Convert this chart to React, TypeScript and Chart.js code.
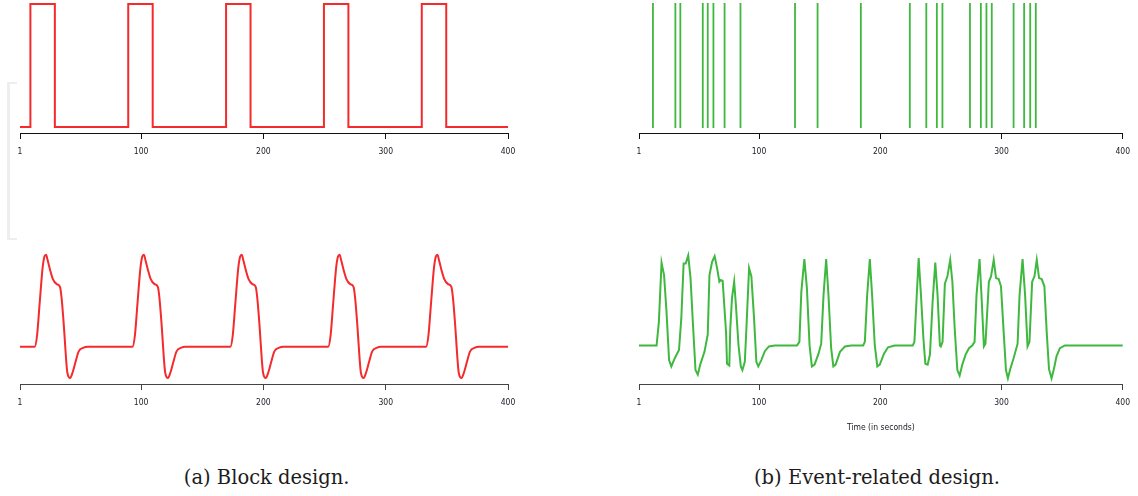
import React, { useEffect, useRef } from "react";
import { Chart, registerables } from "chart.js";

Chart.register(...registerables);

// ---------- data ----------
const TICK_VALUES = [1, 100, 200, 300, 400];
const AXIS_TITLE = "Time (in seconds)";
const CAPTION_A = "(a) Block design.";
const CAPTION_B = "(b) Event-related design.";

// (a) block design: box-car stimulus
const blockX = [1, 9.5, 9.5, 29.5, 29.5, 89.5, 89.5, 109.5, 109.5, 169.5, 169.5, 189.5, 189.5, 249.5, 249.5, 269.5, 269.5, 329.5, 329.5, 349.5, 349.5, 400];
const blockY = [0, 0, 1, 1, 0, 0, 1, 1, 0, 0, 1, 1, 0, 0, 1, 1, 0, 0, 1, 1, 0, 0];

// (a) block design: predicted BOLD response
const blockBoldX = [
  1, 13, 15, 17, 19.5, 21, 22.3, 23.6, 25.5, 27.7, 31, 33.7, 35, 37, 38.6, 39.7, 42, 44, 46.5, 49, 53, 56,
  93, 95, 97, 99.5, 101, 102.3, 103.6, 105.5, 107.7, 111, 113.7, 115, 117, 118.6, 119.7, 122, 124, 126.5, 129, 133, 136,
  173, 175, 177, 179.5, 181, 182.3, 183.6, 185.5, 187.7, 191, 193.7, 195, 197, 198.6, 199.7, 202, 204, 206.5, 209, 213, 216,
  253, 255, 257, 259.5, 261, 262.3, 263.6, 265.5, 267.7, 271, 273.7, 275, 277, 278.6, 279.7, 282, 284, 286.5, 289, 293, 296,
  333, 335, 337, 339.5, 341, 342.3, 343.6, 345.5, 347.7, 351, 353.7, 355, 357, 358.6, 359.7, 362, 364, 366.5, 369, 373, 376, 400,
];
const blockBoldY = [
  0, 0, 0.13, 0.46, 0.86, 0.98, 1.0, 0.94, 0.84, 0.74, 0.68, 0.65, 0.53, 0.2, -0.12, -0.28, -0.34, -0.28, -0.16, -0.05, -0.01, 0,
  0, 0.13, 0.46, 0.86, 0.98, 1.0, 0.94, 0.84, 0.74, 0.68, 0.65, 0.53, 0.2, -0.12, -0.28, -0.34, -0.28, -0.16, -0.05, -0.01, 0,
  0, 0.13, 0.46, 0.86, 0.98, 1.0, 0.94, 0.84, 0.74, 0.68, 0.65, 0.53, 0.2, -0.12, -0.28, -0.34, -0.28, -0.16, -0.05, -0.01, 0,
  0, 0.13, 0.46, 0.86, 0.98, 1.0, 0.94, 0.84, 0.74, 0.68, 0.65, 0.53, 0.2, -0.12, -0.28, -0.34, -0.28, -0.16, -0.05, -0.01, 0,
  0, 0.13, 0.46, 0.86, 0.98, 1.0, 0.94, 0.84, 0.74, 0.68, 0.65, 0.53, 0.2, -0.12, -0.28, -0.34, -0.28, -0.16, -0.05, -0.01, 0, 0,
];

// (b) event-related design: event onsets (seconds)
const eventOnsets = [12.5, 31, 35.1, 53.6, 57.7, 62.4, 71.6, 84.7, 129.7, 148.3, 184, 224.4, 238, 246.7, 251.3, 274, 283, 287.6, 292, 310, 318.7, 323.7, 328.3];

// (b) event-related design: predicted BOLD response
const eventBoldX = [
  1, 15.5, 17.4, 19.6, 21.7, 23.7, 25.8, 27.7, 30.5, 34, 35.9, 37.8, 39.5, 41.6, 43.5, 45.4, 47.6, 49.5, 51.5, 55, 57.7,
  59.1, 61.3, 63.4, 65.4, 67.3, 68.6, 70, 72.8, 73.6, 75.5, 76.3, 77.7, 79.5, 80.9, 83.1, 85, 86.3, 88.3, 89.6, 91.8,
  93.7, 95.9, 97.8, 99.4, 101.9, 104.9, 108.2, 113,
  131.3, 133.3, 134.9, 137.4, 139.5, 141.7, 143.6, 145.8, 149.1, 151.3, 153.2, 155.4, 157.3, 159.5, 161.3, 163.2, 166.8, 170.9, 176,
  185.9, 187.3, 189.2, 191.4, 193.3, 195.5, 197.6, 199.6, 203.1, 206.4, 212,
  226.8, 228.2, 230.1, 231.7, 233.6, 235.6, 237.2, 239.1, 241, 243.2, 245.4, 247.3, 249.2, 250, 251.4, 253.3, 255.4, 257.7,
  259.5, 261.4, 263.6, 265.5, 267.7, 270.4, 273.2, 275.9, 277.8, 279.4, 281.9, 283.5, 285.5, 286.8, 289.6, 291.4, 293.6,
  295.5, 297.7, 299.6, 301.8, 303.7, 305.3, 307.2, 310, 313.3, 314.9, 317.4, 319.5, 321.5, 323.1, 325.3, 327.2, 329.1, 331,
  333.2, 335.4, 337.3, 339.2, 341.3, 343.2, 345.4, 348.2, 352.3, 400,
];
const eventBoldY = [
  0, 0, 0.26, 0.91, 0.77, 0.37, -0.16, -0.23, -0.14, -0.05, 0.3, 0.9, 0.9, 0.99, 0.74, 0.26, -0.27, -0.32, -0.21, -0.07, 0.12,
  0.77, 0.92, 0.98, 0.85, 0.7, 0.72, 0.71, 0.15, -0.2, -0.22, 0.19, 0.52, 0.7, 0.45, 0.0, -0.23, -0.27, -0.18, 0.19, 0.85,
  0.76, 0.3, -0.18, -0.23, -0.16, -0.06, -0.01, 0,
  0, 0.04, 0.59, 0.95, 0.63, 0.0, -0.23, -0.21, -0.09, 0.02, 0.55, 0.95, 0.55, -0.03, -0.23, -0.21, -0.07, -0.01, 0,
  0, 0.04, 0.55, 0.95, 0.55, 0, -0.23, -0.21, -0.09, -0.02, 0,
  0, 0.04, 0.55, 0.96, 0.55, 0.08, -0.2, -0.21, -0.1, 0.48, 0.91, 0.55, 0.0, -0.01, 0.04, 0.68, 0.76, 0.94,
  0.7, 0.19, -0.27, -0.33, -0.21, -0.1, -0.03, 0, 0.04, 0.55, 0.95, 0.55, -0.01, 0.02, 0.7, 0.76, 0.94,
  0.74, 0.73, 0.65, 0.15, -0.27, -0.36, -0.26, -0.14, 0.02, 0.55, 0.95, 0.55, -0.01, 0.04, 0.7, 0.76, 0.94, 0.74,
  0.73, 0.65, 0.15, -0.26, -0.36, -0.26, -0.12, -0.03, 0, 0,
];

// ---------- styling ----------
const RED = "#f42a2c";
const GREEN = "#3fb83f";
const TICK_FONT = "'Liberation Sans Narrow', 'DejaVu Sans Condensed', 'Liberation Sans', Arial, sans-serif";

function toPoints(xs: number[], ys: number[]) {
  return xs.map((x, i) => ({ x, y: ys[i] }));
}

function stickPoints(onsets: number[]) {
  const pts: { x: number; y: number | null }[] = [];
  onsets.forEach((x) => {
    pts.push({ x, y: 0 });
    pts.push({ x, y: 1 });
    pts.push({ x, y: null });
  });
  return pts;
}

function xScale(axisColor: string, scaleHeight: number, withTitle: boolean) {
  return {
    type: "linear",
    min: 1,
    max: 400,
    afterBuildTicks: (s: any) => {
      s.ticks = TICK_VALUES.map((v) => ({ value: v }));
    },
    afterFit: (s: any) => {
      s.height = scaleHeight;
    },
    ticks: {
      autoSkip: false,
      maxRotation: 0,
      minRotation: 0,
      padding: 8,
      color: "#1a1a24",
      font: { family: TICK_FONT, size: 8.5 },
      callback: (v: any) => String(v),
    },
    grid: {
      display: true,
      drawOnChartArea: false,
      drawTicks: true,
      tickLength: 6,
      tickColor: axisColor,
      tickWidth: 1,
    },
    border: { display: true, color: axisColor, width: 1 },
    title: {
      display: withTitle,
      text: AXIS_TITLE,
      color: "#1a1a24",
      font: { family: TICK_FONT, size: 8.5 },
      padding: { top: 0, bottom: 1 },
    },
  };
}

type PanelProps = {
  left: number;
  top: number;
  width: number;
  height: number;
  datasets: any[];
  yMin: number;
  yMax: number;
  pad: { left: number; right: number; top: number };
  axisColor: string;
  scaleHeight: number;
  withTitle?: boolean;
};

function Panel(p: PanelProps) {
  const ref = useRef<HTMLCanvasElement | null>(null);
  useEffect(() => {
    if (!ref.current) return;
    const chart = new Chart(ref.current, {
      type: "line",
      data: { datasets: p.datasets },
      options: {
        animation: false,
        responsive: false,
        maintainAspectRatio: false,
        events: [],
        layout: { padding: { left: p.pad.left, right: p.pad.right, top: p.pad.top, bottom: 0 } },
        plugins: { legend: { display: false }, tooltip: { enabled: false } },
        scales: {
          x: xScale(p.axisColor, p.scaleHeight, !!p.withTitle) as any,
          y: { display: false, min: p.yMin, max: p.yMax },
        },
      },
    });
    return () => chart.destroy();
  }, []);
  return (
    <canvas
      ref={ref}
      width={p.width}
      height={p.height}
      style={{ position: "absolute", left: p.left, top: p.top, width: p.width, height: p.height }}
    />
  );
}

const lineBase = {
  pointRadius: 0,
  fill: false,
  clip: false,
  spanGaps: false,
};

export default function App() {
  const captionStyle: React.CSSProperties = {
    position: "absolute",
    top: 468,
    width: 400,
    textAlign: "center",
    fontFamily: "'DejaVu Serif', serif",
    fontSize: 19.5,
    lineHeight: "20px",
    color: "#1c1c1c",
    whiteSpace: "nowrap",
  };
  return (
    <div style={{ position: "absolute", left: 0, top: 0, width: 1138, height: 496, background: "#fff", overflow: "hidden" }}>
      <div
        style={{
          position: "absolute",
          left: 7,
          top: 82,
          width: 7,
          height: 154,
          borderLeft: "3px solid #eeeeee",
          borderTop: "2px solid #eeeeee",
          borderBottom: "2px solid #eeeeee",
        }}
      />
      <Panel
        left={0}
        top={0}
        width={530}
        height={170}
        pad={{ left: 20, right: 22, top: 4 }}
        yMin={-0.0488}
        yMax={1}
        axisColor="#111"
        scaleHeight={37}
        datasets={[
          { ...lineBase, data: toPoints(blockX, blockY), borderColor: RED, borderWidth: 2, tension: 0 },
        ]}
      />
      <Panel
        left={620}
        top={0}
        width={518}
        height={170}
        pad={{ left: 19, right: 11.3, top: 3 }}
        yMin={-0.04}
        yMax={1}
        axisColor="#111"
        scaleHeight={37}
        datasets={[
          { ...lineBase, data: stickPoints(eventOnsets), borderColor: GREEN, borderWidth: 1.8, tension: 0 },
        ]}
      />
      <Panel
        left={0}
        top={245}
        width={530}
        height={176}
        pad={{ left: 20, right: 22, top: 5 }}
        yMin={-0.405}
        yMax={1.051}
        axisColor="#444"
        scaleHeight={37}
        datasets={[
          {
            ...lineBase,
            data: toPoints(blockBoldX, blockBoldY),
            borderColor: RED,
            borderWidth: 2,
            cubicInterpolationMode: "monotone",
          },
        ]}
      />
      <Panel
        left={620}
        top={245}
        width={518}
        height={189}
        pad={{ left: 19, right: 11.3, top: 5 }}
        yMin={-0.423}
        yMax={1.049}
        axisColor="#444"
        scaleHeight={50}
        withTitle
        datasets={[
          { ...lineBase, data: toPoints(eventBoldX, eventBoldY), borderColor: GREEN, borderWidth: 2, tension: 0 },
        ]}
      />
      <div style={{ ...captionStyle, left: 266.7 - 200 }}>{CAPTION_A}</div>
      <div style={{ ...captionStyle, left: 877 - 200 }}>{CAPTION_B}</div>
    </div>
  );
}
